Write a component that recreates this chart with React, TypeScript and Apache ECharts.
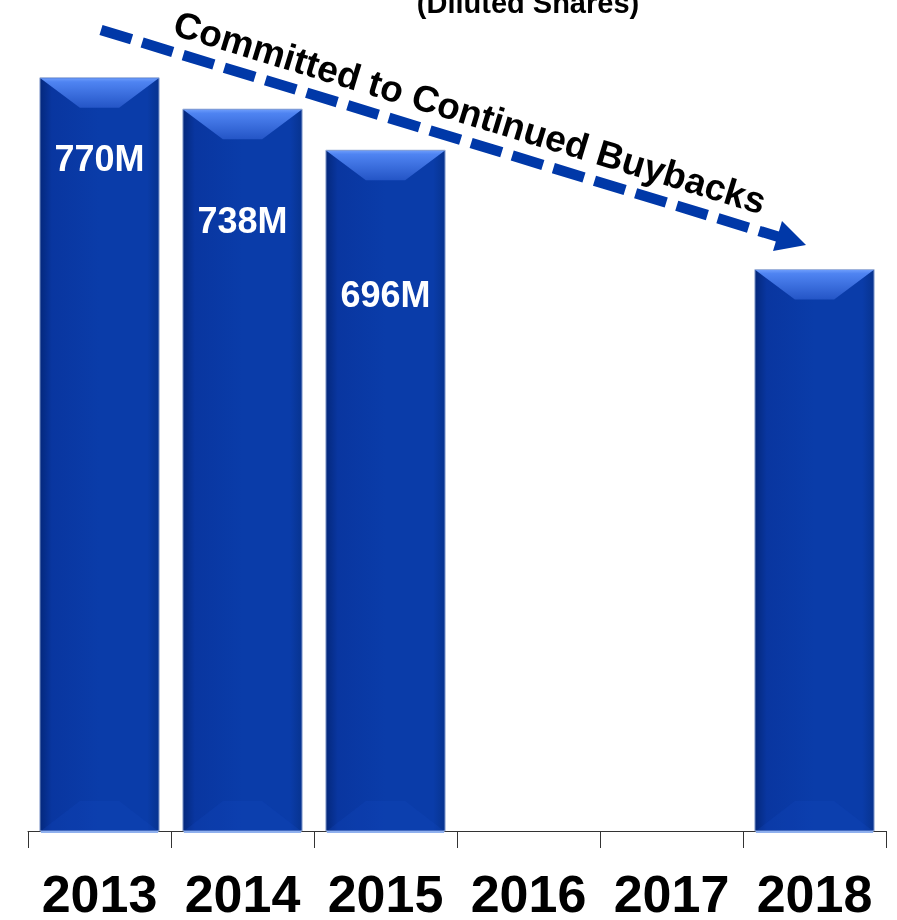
import React, { useEffect, useRef } from "react";
import * as echarts from "echarts";

const years = ["2013", "2014", "2015", "2016", "2017", "2018"];
const shares: (number | null)[] = [770, 738, 696, null, null, 574];
const barLabels = ["770M", "738M", "696M", "", "", ""];
const titleText = "(Diluted Shares)";
const arrowText = "Committed to Continued Buybacks";

const FONT = '"Liberation Sans", Arial, Helvetica, sans-serif';
const labelDrop = [81, 111, 144, 0, 0, 0];

export default function App() {
  const ref = useRef<HTMLDivElement>(null);
  useEffect(() => {
    if (!ref.current) return;
    const chart = echarts.init(ref.current, null, { renderer: "svg" });
    const data = years
      .map((_, i) => [i, shares[i]])
      .filter((d) => d[1] != null);

    const renderItem = (params: any, api: any) => {
      const idx = api.value(0);
      const val = api.value(1);
      const top = api.coord([idx, val]);
      const bot = api.coord([idx, 0]);
      const bw = api.size([1, 0])[0] * 0.834;
      const x0 = top[0] - bw / 2;
      const x1 = x0 + bw;
      const y0 = top[1];
      const y1 = bot[1];
      const bi = 40;
      const bd = 30;
      const children: any[] = [
        {
          type: "rect",
          shape: { x: x0, y: y0, width: bw, height: y1 - y0 },
          style: {
            fill: new echarts.graphic.LinearGradient(0, 0, 1, 0, [
              { offset: 0, color: "#04287c" },
              { offset: 0.1, color: "#0936a0" },
              { offset: 0.5, color: "#0a3ca9" },
              { offset: 0.9, color: "#0a3ca9" },
              { offset: 1, color: "#07338f" },
            ]),
            stroke: "#a3b6dc",
            lineWidth: 1,
          },
        },
        {
          type: "polygon",
          shape: {
            points: [
              [x0 + 1, y1],
              [x0 + bi, y1 - bd],
              [x1 - bi, y1 - bd],
              [x1 - 1, y1],
            ],
          },
          style: { fill: "rgba(20,70,190,0.25)" },
        },
        {
          type: "polygon",
          shape: {
            points: [
              [x0 + 0.5, y0 + 0.5],
              [x1 - 0.5, y0 + 0.5],
              [x1 - bi, y0 + bd],
              [x0 + bi, y0 + bd],
            ],
          },
          style: {
            fill: new echarts.graphic.LinearGradient(0, 0, 0, 1, [
              { offset: 0, color: "#6b9bfb" },
              { offset: 0.12, color: "#4f84f2" },
              { offset: 1, color: "#2455c6" },
            ]),
          },
        },
        {
          type: "line",
          shape: { x1: x0 + 1, y1: y1 + 1, x2: x1 - 1, y2: y1 + 1 },
          style: { stroke: "#8fb0ee", lineWidth: 2 },
        },
      ];
      if (barLabels[idx]) {
        children.push({
          type: "text",
          style: {
            text: barLabels[idx],
            x: top[0],
            y: y0 + labelDrop[idx],
            align: "center",
            verticalAlign: "middle",
            fill: "#ffffff",
            fontSize: 36,
            fontWeight: "bold",
            fontFamily: FONT,
          },
        });
      }
      return { type: "group", children };
    };

    const ang = Math.atan2(215, 705);

    chart.setOption({
      animation: false,
      grid: { left: 28, right: 11, top: 48.5, bottom: 86 },
      xAxis: {
        type: "category",
        data: years,
        boundaryGap: true,
        axisLine: { show: true, lineStyle: { color: "#333333", width: 1 } },
        axisTick: {
          show: true,
          interval: 0,
          length: 17,
          lineStyle: { color: "#333333" },
        },
        axisLabel: {
          interval: 0,
          hideOverlap: false,
          margin: 43,
          fontSize: 52,
          lineHeight: 40,
          fontWeight: "bold",
          fontFamily: FONT,
          color: "#000000",
        },
      },
      yAxis: {
        type: "value",
        min: 0,
        max: 800,
        show: false,
        splitLine: { show: false },
      },
      series: [
        {
          type: "custom",
          renderItem,
          data,
          encode: { x: 0, y: 1 },
          z: 2,
        },
      ],
      graphic: [
        {
          type: "text",
          x: 528,
          y: 2.5,
          style: {
            text: titleText,
            align: "center",
            verticalAlign: "middle",
            fill: "#000000",
            fontSize: 29,
            fontWeight: "bold",
            fontFamily: FONT,
          },
        },
        {
          type: "line",
          shape: { x1: 101, y1: 30, x2: 779, y2: 237 },
          style: { stroke: "#0038a8", lineWidth: 10.5, lineDash: [32, 11] },
          z: 10,
        },
        {
          type: "polygon",
          shape: {
            points: [
              [806, 245],
              [782, 221],
              [773, 251],
            ],
          },
          style: { fill: "#0038a8" },
          z: 10,
        },
        {
          type: "text",
          x: 470,
          y: 112,
          rotation: -ang,
          style: {
            text: arrowText,
            align: "center",
            verticalAlign: "middle",
            fill: "#000000",
            fontSize: 37,
            fontWeight: "bold",
            fontFamily: FONT,
          },
          z: 10,
        },
      ],
    });
    return () => chart.dispose();
  }, []);
  return (
    <div
      ref={ref}
      style={{ position: "fixed", left: 0, top: 0, width: 897, height: 920 }}
    />
  );
}
